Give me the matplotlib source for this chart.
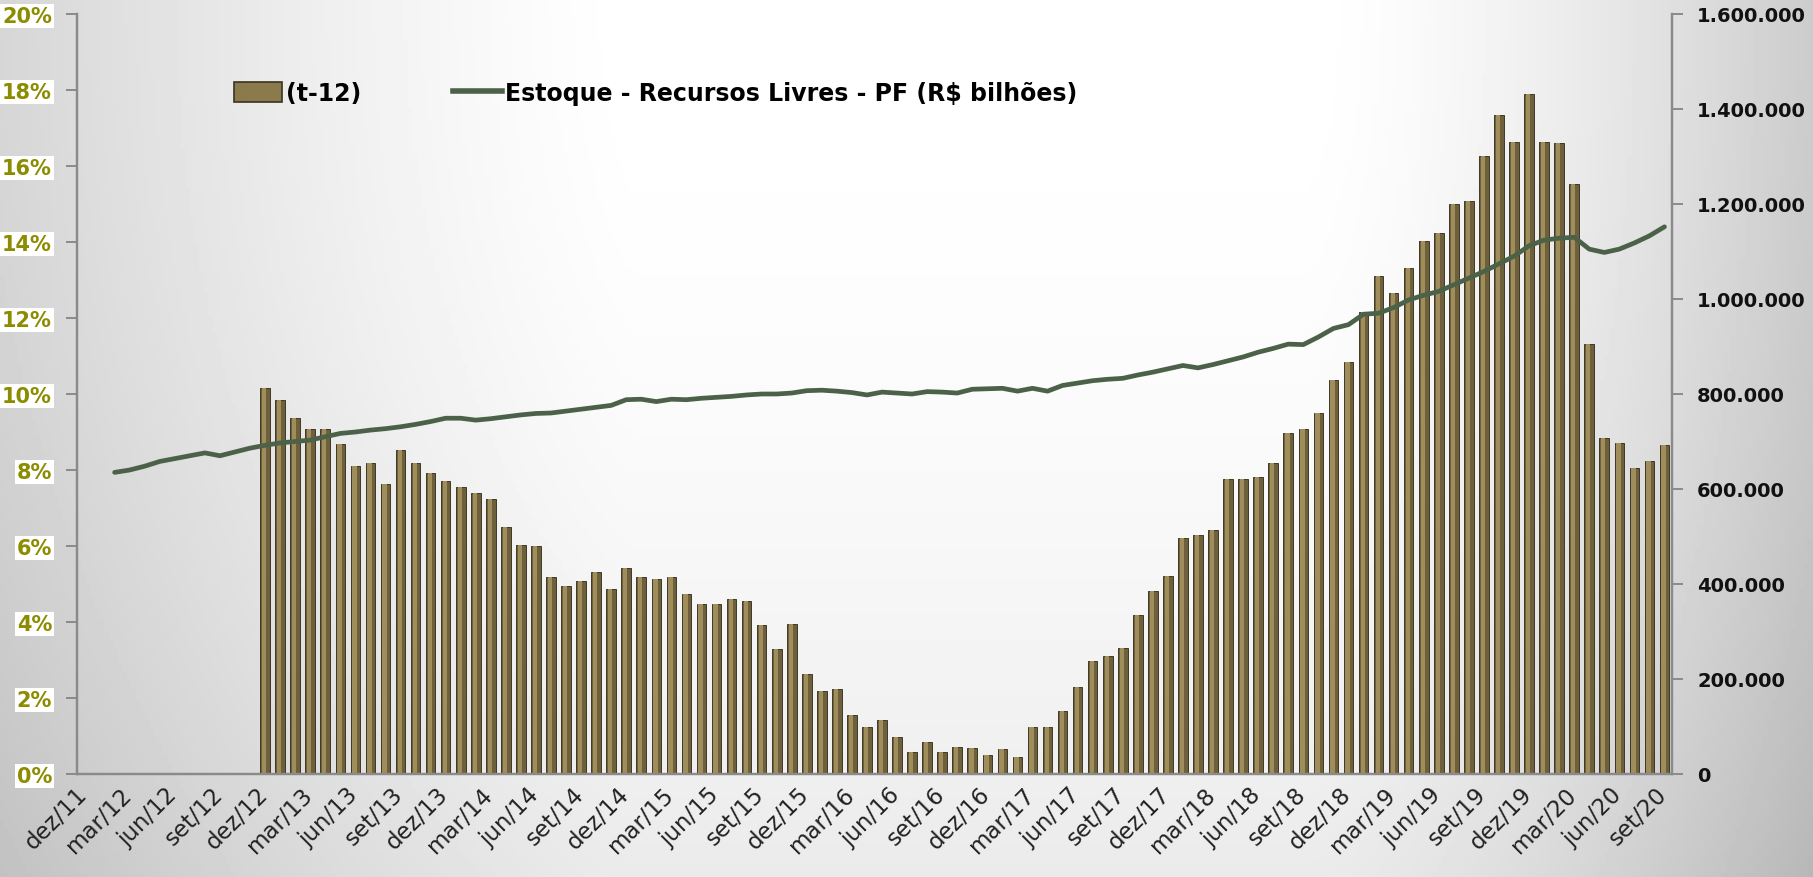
import numpy as np
import matplotlib
matplotlib.use("Agg")
import matplotlib.pyplot as plt
import matplotlib.transforms as mtransforms
from matplotlib.patches import Patch
from matplotlib.lines import Line2D
from matplotlib.ticker import FuncFormatter

meses = ['jan', 'fev', 'mar', 'abr', 'mai', 'jun', 'jul', 'ago', 'set', 'out', 'nov', 'dez']
# monthly categories dez/11 ... set/20
categorias = ['dez/11'] + ['%s/%02d' % (m, a) for a in range(12, 21) for m in meses]
categorias = categorias[:categorias.index('set/20') + 1]

# (t-12) growth, % -- from dez/12
taxa_t12 = [10.15, 9.85, 9.37, 9.08, 9.08, 8.68, 8.11, 8.18, 7.63, 8.53, 8.18, 7.91,
            7.71, 7.56, 7.39, 7.23, 6.51, 6.03, 5.99, 5.19, 4.96, 5.09, 5.32, 4.87,
            5.41, 5.18, 5.13, 5.18, 4.74, 4.47, 4.47, 4.61, 4.54, 3.93, 3.28, 3.96,
            2.63, 2.18, 2.24, 1.56, 1.25, 1.43, 0.98, 0.59, 0.85, 0.59, 0.72, 0.69,
            0.50, 0.66, 0.46, 1.25, 1.25, 1.67, 2.28, 2.98, 3.11, 3.31, 4.18, 4.81,
            5.21, 6.20, 6.30, 6.43, 7.76, 7.76, 7.82, 8.18, 8.97, 9.08, 9.50, 10.38,
            10.83, 12.15, 13.10, 12.65, 13.32, 14.03, 14.24, 15.00, 15.07, 16.27, 17.34, 16.62,
            17.89, 16.62, 16.60, 15.53, 11.32, 8.83, 8.70, 8.05, 8.25, 8.67]
inicio_taxa = 'dez/12'

# Estoque - Recursos Livres - PF -- from fev/12
estoque = [635, 640, 648, 658, 664, 670, 676, 670, 678, 686, 692, 697, 700, 703, 710, 717,
           720, 724, 727, 731, 736, 742, 749, 749, 745, 748, 752, 756, 759, 760, 764, 768,
           772, 776, 788, 789, 784, 789, 788, 791, 793, 795, 798, 800, 800, 802, 807, 808,
           806, 803, 798, 804, 802, 800, 805, 804, 802, 810, 811, 812, 806, 812, 806, 818,
           823, 828, 831, 833, 840, 846, 853, 860, 855, 862, 870, 878, 888, 896, 905, 904,
           920, 938, 946, 968, 970, 982, 998, 1008, 1016, 1030, 1044, 1058, 1074, 1090, 1112, 1124,
           1128, 1130, 1105, 1098, 1105, 1118, 1133, 1152]
estoque = [v * 1000 for v in estoque]
inicio_estoque = 'fev/12'

x = np.arange(len(categorias))
xb = x[categorias.index(inicio_taxa):][:len(taxa_t12)]
xl = x[categorias.index(inicio_estoque):][:len(estoque)]

fig = plt.figure(figsize=(18.13, 8.78), dpi=100)

# background gradient
bg = fig.add_axes([0, 0, 1, 1], zorder=-10)
gx = np.linspace(0, 1, 400)
gy = np.linspace(0, 1, 200)
X, Y = np.meshgrid(gx, gy)
shade = 0.16 * np.clip((0.35 - X) / 0.35, 0, 1) ** 1.3 + 0.2 * np.clip((X - 0.72) / 0.28, 0, 1) ** 1.5
shade += 0.08 * Y ** 2
img = np.clip(1 - shade, 0, 1)
bg.imshow(img, cmap='gray', vmin=0, vmax=1, aspect='auto', extent=[0, 1, 0, 1], origin='upper')
bg.axis('off')

ax = fig.add_axes([77 / 1813, 1 - 775 / 878, (1672 - 77) / 1813, (775 - 15) / 878])
ax.patch.set_alpha(0)
ax2 = ax.twinx()

ax.bar(xb, taxa_t12, width=0.64, color='#6e603a', edgecolor='#2e2716', linewidth=0.6, zorder=2)
ax.bar(xb - 0.06, taxa_t12, width=0.28, color='#a08d5c', linewidth=0, zorder=3)

ax2.plot(xl, estoque, color='#4b6248', lw=3.4, solid_capstyle='round', zorder=4)

ax.set_xlim(-0.5, len(categorias) - 0.5)
ax.set_ylim(0, 20)
ax2.set_ylim(0, 1600000)
ax.set_yticks(np.arange(0, 21, 2))
ax2.set_yticks(np.arange(0, 1600001, 200000))
ax.yaxis.set_major_formatter(FuncFormatter(lambda v, p: '%d%%' % v))
ax2.yaxis.set_major_formatter(FuncFormatter(lambda v, p: '{:,.0f}'.format(v).replace(',', '.')))

ax.set_xticks(x[::3])
ax.set_xticklabels(categorias[::3], rotation=45, ha='right', rotation_mode='anchor',
                   fontsize=16.5, color='#222222')
ax.tick_params(axis='x', length=0, pad=6)
shift = mtransforms.ScaledTranslation(-9 / 100, 0, fig.dpi_scale_trans)
for t in ax.get_xticklabels():
    t.set_transform(t.get_transform() + shift)

for a in (ax, ax2):
    a.spines['top'].set_visible(False)
    for s in ('left', 'right', 'bottom'):
        a.spines[s].set_color('#8a8a8a')
        a.spines[s].set_linewidth(1.6)

ax.tick_params(axis='y', length=8, width=1.4, color='#8a8a8a', labelsize=15,
               labelcolor='#8c8c00', pad=10)
for t in ax.get_yticklabels():
    t.set_fontweight('bold')
    t.set_bbox(dict(facecolor='white', edgecolor='none', pad=1.5))
ax2.tick_params(axis='y', length=8, width=1.4, color='#8a8a8a', labelsize=14,
                labelcolor='#111111', pad=10)
for t in ax2.get_yticklabels():
    t.set_fontweight('bold')

handles = [Patch(facecolor='#8a7a4c', edgecolor='#3a3220', linewidth=1.2),
           Line2D([0], [0], color='#4b6248', lw=4)]
fig.legend(handles, ['(t-12)', 'Estoque - Recursos Livres - PF (R$ bilhões)'],
           loc='center left', bbox_to_anchor=(234 / 1813, 1 - 94 / 878), ncol=2,
           frameon=False, borderaxespad=0, borderpad=0,
           handlelength=2.05, handleheight=0.9, handletextpad=0.15, columnspacing=3.9,
           prop={'weight': 'bold', 'size': 17})

fig.savefig('out.png', dpi=100)
